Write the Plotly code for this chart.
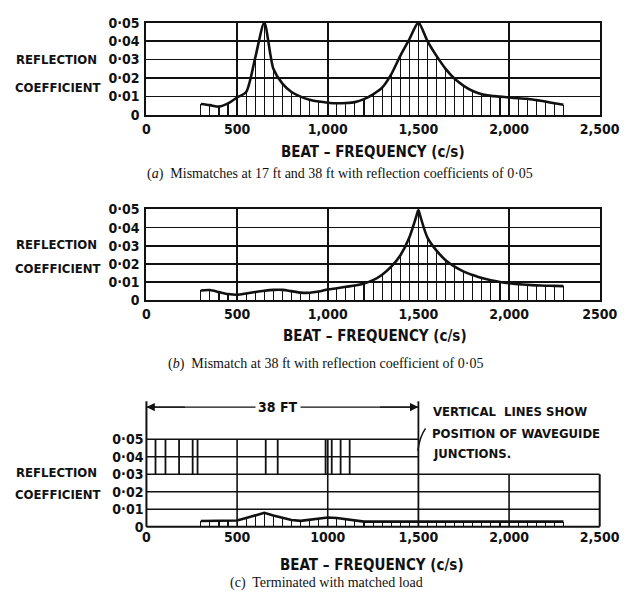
import plotly.graph_objects as go

# ---------------- data ----------------
freq = [300, 350, 400, 450, 500, 550, 600, 650, 700, 750, 800, 850, 900, 950,
        1000, 1050, 1100, 1150, 1200, 1250, 1300, 1350, 1400, 1450, 1500, 1550,
        1600, 1650, 1700, 1750, 1800, 1850, 1900, 1950, 2000, 2050, 2100, 2150,
        2200, 2250, 2300]

refl_a = [0.0060, 0.0054, 0.0046, 0.0063, 0.0095, 0.0125, 0.0310, 0.0500, 0.0250,
          0.0170, 0.0125, 0.0100, 0.0083, 0.0073, 0.0067, 0.0064, 0.0065, 0.0070,
          0.0086, 0.0112, 0.0148, 0.0220, 0.0320, 0.0410, 0.0500, 0.0400, 0.0320,
          0.0250, 0.0196, 0.0158, 0.0130, 0.0113, 0.0104, 0.0100, 0.0095, 0.0091,
          0.0088, 0.0081, 0.0073, 0.0064, 0.0056]

refl_b = [0.0053, 0.0055, 0.0044, 0.0033, 0.0029, 0.0036, 0.0044, 0.0051, 0.0056,
          0.0056, 0.0049, 0.0041, 0.0040, 0.0047, 0.0058, 0.0065, 0.0073, 0.0080,
          0.0091, 0.0110, 0.0140, 0.0184, 0.0246, 0.0345, 0.0500, 0.0345, 0.0273,
          0.0220, 0.0184, 0.0157, 0.0138, 0.0121, 0.0109, 0.0100, 0.0093, 0.0088,
          0.0084, 0.0081, 0.0079, 0.0078, 0.0077]

refl_c = [0.0033, 0.0033, 0.0033, 0.0033, 0.0036, 0.0050, 0.0065, 0.0080, 0.0065,
          0.0050, 0.0039, 0.0034, 0.0040, 0.0047, 0.0053, 0.0050, 0.0043, 0.0034,
          0.0030, 0.0030, 0.0030, 0.0030, 0.0030, 0.0030, 0.0030, 0.0030, 0.0030,
          0.0030, 0.0030, 0.0030, 0.0030, 0.0030, 0.0030, 0.0030, 0.0030, 0.0030,
          0.0030, 0.0030, 0.0030, 0.0030, 0.0030]

junctions = [50, 105, 180, 255, 282, 658, 724, 988, 1000, 1022, 1071, 1121]

y_ticks = [0, 0.01, 0.02, 0.03, 0.04, 0.05]
y_ticktext = ["0", "0·01", "0·02", "0·03", "0·04", "0·05"]
x_ticks = [0, 500, 1000, 1500, 2000, 2500]
x_ticktext_a = ["0", "500", "1,000", "1,500", "2,000", "2,500"]
x_ticktext_b = ["0", "500", "1,000", "1,500", "2,000", "2500"]
x_ticktext_c = ["0", "500", "1000", "1,500", "2,000", "2,500"]

# ---------------- styling ----------------
W, H = 638, 602
LBL = "Liberation Sans Narrow, DejaVu Sans Condensed, Arial Narrow, Liberation Sans, sans-serif"
SERIF = "Liberation Serif, DejaVu Serif, serif"
INK = "#111111"


def px(x):
    return x / W


def py(y):
    return 1 - y / H


xdom = [px(148), px(619)]
ydom_a = [py(110), py(15)]
ydom_b = [py(300), py(207)]
ydom_c = [py(533), py(443)]

fig = go.Figure()


def add_panel(n, vals, split_peak=False, shape="spline"):
    xa = "x" if n == 1 else f"x{n}"
    ya = "y" if n == 1 else f"y{n}"
    fig.add_trace(go.Bar(x=freq, y=vals, width=6, marker=dict(color=INK, line=dict(width=0)),
                         xaxis=xa, yaxis=ya, showlegend=False, hoverinfo="skip"))
    if split_peak:
        k = vals.index(max(vals))
        segs = [(freq[:k + 1], vals[:k + 1]), (freq[k:], vals[k:])]
    else:
        segs = [(freq, vals)]
    for fx, fy in segs:
        fig.add_trace(go.Scatter(x=fx, y=fy, mode="lines",
                                 line=dict(color=INK, width=2.6, shape=shape, smoothing=0.7),
                                 xaxis=xa, yaxis=ya, showlegend=False, hoverinfo="skip"))


add_panel(1, refl_a, split_peak=False, shape="spline")
add_panel(2, refl_b, split_peak=True, shape="spline")
add_panel(3, refl_c, split_peak=False, shape="linear")

tickfont = dict(family=LBL, size=14, color=INK, weight="bold")


def xaxis_cfg(ticktext, anchor, grid=True):
    return dict(domain=xdom, range=[0, 2500], anchor=anchor, tickmode="array",
                tickvals=x_ticks, ticktext=ticktext, tickfont=tickfont, ticks="",
                showgrid=grid, gridcolor=INK, gridwidth=1.6,
                showline=grid, mirror=grid, linecolor=INK, linewidth=2,
                zeroline=False, fixedrange=True)


def yaxis_cfg(dom, anchor, grid=True):
    return dict(domain=dom, range=[0, 0.05], anchor=anchor, tickmode="array",
                tickvals=y_ticks, ticktext=y_ticktext, tickfont=tickfont, ticks="",
                ticklabelstandoff=2,
                showgrid=grid, gridcolor=INK, gridwidth=1.6,
                showline=grid, mirror=grid, linecolor=INK, linewidth=2,
                zeroline=False, fixedrange=True)


fig.update_layout(
    width=W, height=H, margin=dict(l=0, r=0, t=0, b=0),
    paper_bgcolor="white", plot_bgcolor="white",
    showlegend=False, bargap=0, hovermode=False,
    xaxis=xaxis_cfg(x_ticktext_a, "y"),
    yaxis=yaxis_cfg(ydom_a, "x"),
    xaxis2=xaxis_cfg(x_ticktext_b, "y2"),
    yaxis2=yaxis_cfg(ydom_b, "x2"),
    xaxis3=xaxis_cfg(x_ticktext_c, "y3", grid=False),
    yaxis3=yaxis_cfg(ydom_c, "x3", grid=False),
)

# ---------------- panel (c) structure ----------------
shapes = []
LW = 1.6


def line(**kw):
    d = dict(type="line", line=dict(color=INK, width=kw.pop("w", LW)), layer="above")
    d.update(kw)
    shapes.append(d)


# borders
line(xref="x3 domain", yref="y3 domain", x0=0, x1=1, y0=0, y1=0, w=2)
line(xref="x3 domain", yref="y3 domain", x0=0, x1=0, y0=0, y1=(533 - 404) / 90, w=2)
line(xref="x3 domain", yref="y3", x0=1, x1=1, y0=0, y1=0.03, w=2)
# horizontal grid
for yv in [0.01, 0.02, 0.03]:
    line(xref="x3", yref="y3", x0=0, x1=2500, y0=yv, y1=yv)
line(xref="x3", yref="y3", x0=0, x1=1500, y0=0.04, y1=0.04)
line(xref="x3", yref="y3 domain", x0=0, x1=1500, y0=1, y1=1)
# vertical grid
line(xref="x3", yref="y3", x0=500, x1=500, y0=0, y1=0.05)
line(xref="x3", yref="y3", x0=1000, x1=1000, y0=0, y1=0.03)
line(xref="x3", yref="y3", x0=2000, x1=2000, y0=0, y1=0.03)
line(xref="x3", yref="y3 domain", x0=1500, x1=1500, y0=0, y1=(533 - 404) / 90, w=1.8)
# waveguide junctions
for j in junctions:
    line(xref="x3", yref="y3", x0=j, x1=j, y0=0.03, y1=0.05, w=1.8)
# dimension line
dim_y = (533 - 410) / 90
line(xref="x3", yref="y3 domain", x0=0, x1=1500, y0=dim_y, y1=dim_y, w=1.4)
# leader line
shapes.append(dict(type="path", xref="paper", yref="paper",
                   path=f"M {px(438)},{py(432)} Q {px(432)},{py(440)} {px(430)},{py(455)}",
                   line=dict(color=INK, width=1.4)))

fig.update_layout(shapes=shapes)

# ---------------- text ----------------
ann = []


def text(t, x, y, size=13, family=LBL, bold=True, xanchor="center", **kw):
    d = dict(text=t, x=px(x), y=py(y), xref="paper", yref="paper", showarrow=False,
             xanchor=xanchor, yanchor="middle",
             font=dict(family=family, size=size, color=INK, weight="bold" if bold else "normal"))
    d.update(kw)
    ann.append(d)


# panel (a)
text("REFLECTION", 55, 53)
text("COEFFICIENT", 56, 82)
text("BEAT – FREQUENCY (c/s)", 383, 148, size=15)
text("(<i>a</i>)  Mismatches at 17 ft and 38 ft with reflection coefficients of 0·05",
     349, 171, size=14, family=SERIF, bold=False)
# panel (b)
text("REFLECTION", 55, 243)
text("COEFFICIENT", 56, 268)
text("BEAT – FREQUENCY (c/s)", 386, 337, size=15)
text("(<i>b</i>)  Mismatch at 38 ft with reflection coefficient of 0·05",
     334, 366, size=14, family=SERIF, bold=False)
# panel (c)
text("REFLECTION", 55, 477)
text("COEFFICIENT", 56, 500)
text("38 FT", 285, 410, size=14, bgcolor="white", borderpad=2)
text("VERTICAL  LINES SHOW", 444, 415, size=13, xanchor="left")
text("POSITION OF WAVEGUIDE", 443, 437, size=13, xanchor="left")
text("JUNCTIONS.", 444, 458, size=13, xanchor="left")
text("BEAT – FREQUENCY (c/s)", 382, 572, size=15)
text("(c)  Terminated with matched load", 335, 591, size=14, family=SERIF, bold=False)

# dimension arrows
for xv, off in [(0, 40), (1500, -40)]:
    ann.append(dict(x=xv, y=dim_y, xref="x3", yref="y3 domain", ax=off, ay=0,
                    showarrow=True, arrowhead=2, arrowsize=1.2, arrowwidth=1.4,
                    arrowcolor=INK, text=""))

fig.update_layout(annotations=ann)

fig.write_html("out.html", config={"displayModeBar": False, "staticPlot": True},
               post_script="document.body.style.margin='0';document.body.style.overflow='hidden';")
